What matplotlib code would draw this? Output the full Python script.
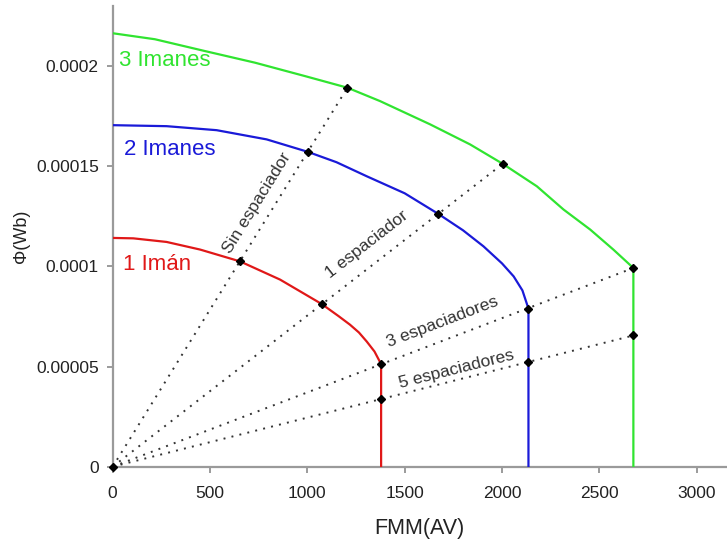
import math
import matplotlib
matplotlib.use("Agg")
import matplotlib.pyplot as plt

plt.rcParams['font.family'] = ['Liberation Sans', 'DejaVu Sans']

# Demagnetisation-type curves: flux (Wb) versus magnetomotive force (A·V)
red_x = [0, 106, 277, 449, 654, 860, 1074, 1160, 1219, 1265, 1305, 1345, 1379, 1379]
red_y = [0.0001142, 0.000114, 0.0001122, 0.0001084, 0.0001025, 0.0000934,
         0.0000812, 0.0000752, 0.0000709, 0.0000670, 0.0000625, 0.0000575,
         0.0000512, 0.0]

blue_x = [0, 277, 534, 791, 1002, 1150, 1305, 1500, 1673, 1800, 1905, 2000,
          2060, 2105, 2136, 2136]
blue_y = [0.0001705, 0.00017, 0.000168, 0.0001634, 0.0001572, 0.0001520,
          0.000145, 0.0001365, 0.0001262, 0.0001180, 0.0001100, 0.0001015,
          0.0000950, 0.0000880, 0.0000789, 0.0]

green_x = [0, 217, 474, 731, 988, 1206, 1374, 1631, 1836, 2004, 2179, 2316,
           2453, 2572, 2675, 2675]
green_y = [0.0002164, 0.0002134, 0.0002075, 0.0002017, 0.000195, 0.0001892,
           0.0001825, 0.0001709, 0.0001609, 0.0001512, 0.00014, 0.0001284,
           0.0001184, 0.0001084, 0.0000992, 0.0]

# Operating points where each load line meets the curves
red_pts_x = [654, 1074, 1379, 1379]
red_pts_y = [0.0001025, 0.0000812, 0.0000512, 0.0000337]
blue_pts_x = [1002, 1673, 2136, 2136]
blue_pts_y = [0.0001572, 0.0001262, 0.0000789, 0.0000522]
green_pts_x = [1206, 2004, 2675, 2675]
green_pts_y = [0.0001892, 0.0001512, 0.0000992, 0.0000655]

load_line_names = ["Sin espaciador", "1 espaciador", "3 espaciadores", "5 espaciadores"]
load_label_x = [740, 1308, 1694, 1768]
load_label_y = [0.0001317, 0.0001109, 0.0000725, 0.0000487]

x_ticks = [0, 500, 1000, 1500, 2000, 2500, 3000]
x_tick_labels = ["0", "500", "1000", "1500", "2000", "2500", "3000"]
y_ticks = [0, 0.00005, 0.0001, 0.00015, 0.0002]
y_tick_labels = ["0", "0.00005", "0.0001", "0.00015", "0.0002"]

RED = '#e01818'
BLUE = '#1a1ad8'
GREEN = '#30e430'

fig = plt.figure(figsize=(7.27, 5.45), dpi=100)
ax = fig.add_axes([0.155, 0.1437, 0.845, 0.8453])

# Load lines from the origin through the outermost operating points
for gx, gy in zip(green_pts_x, green_pts_y):
    ax.plot([0, gx], [0, gy], color='#333333', lw=1.4,
            linestyle=(0, (1, 3.2)), zorder=2)

ax.plot(red_x, red_y, color=RED, lw=1.6, zorder=3)
ax.plot(blue_x, blue_y, color=BLUE, lw=1.6, zorder=3)
ax.plot(green_x, green_y, color=GREEN, lw=1.6, zorder=3)

for px, py in [(red_pts_x, red_pts_y), (blue_pts_x, blue_pts_y),
               (green_pts_x, green_pts_y), ([0], [0])]:
    ax.plot(px, py, linestyle='none', marker='D', markersize=4.2,
            color='black', zorder=4, clip_on=False)

ax.text(32, 0.0002029, "3 Imanes", color=GREEN, fontsize=16, va='center', ha='left')
ax.text(58, 0.0001584, "2 Imanes", color=BLUE, fontsize=16, va='center', ha='left')
ax.text(51, 0.0001009, "1 Imán", color=RED, fontsize=16, va='center', ha='left')

ax.set_xlim(0, 3156)
ax.set_ylim(0, 0.00023)

# Rotate each load-line label to follow its line on screen
fig.canvas.draw()
for name, lx, ly, gx, gy in zip(load_line_names, load_label_x, load_label_y,
                                green_pts_x, green_pts_y):
    p0 = ax.transData.transform((0, 0))
    p1 = ax.transData.transform((gx, gy))
    ang = math.degrees(math.atan2(p1[1] - p0[1], p1[0] - p0[0]))
    ax.text(lx, ly, name, rotation=ang, rotation_mode='anchor',
            ha='center', va='center', fontsize=12.5, color='#333333')

ax.set_xticks(x_ticks)
ax.set_xticklabels(x_tick_labels)
ax.set_yticks(y_ticks)
ax.set_yticklabels(y_tick_labels)

for s in ['top', 'right']:
    ax.spines[s].set_visible(False)
for s in ['left', 'bottom']:
    ax.spines[s].set_color('#9a9a9a')
    ax.spines[s].set_linewidth(1.6)

ax.tick_params(axis='both', direction='out', length=4, width=1.2,
               color='#8a8a8a', labelsize=12.5, labelcolor='#222222')
ax.tick_params(axis='x', pad=10)
ax.tick_params(axis='y', pad=6)

ax.set_xlabel("FMM(AV)", fontsize=15.5, color='#222222', labelpad=12)
ax.set_ylabel("Φ(Wb)", fontsize=13, color='#222222', labelpad=4)

fig.savefig("out.png", dpi=100)
